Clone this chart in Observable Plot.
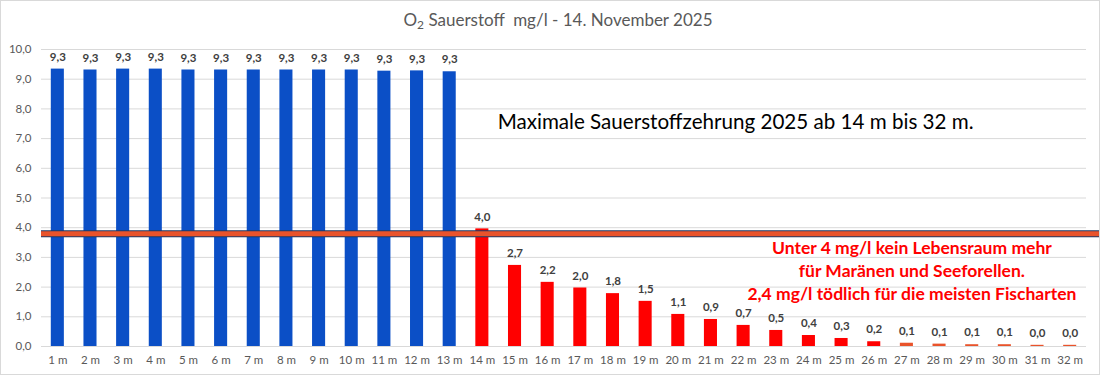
<!DOCTYPE html>
<html>
<head>
<meta charset="utf-8">
<script src="https://cdn.jsdelivr.net/npm/d3@7"></script>
<script src="https://cdn.jsdelivr.net/npm/@observablehq/plot@0.6"></script>
<style>
  html, body { margin: 0; padding: 0; background: #fff; }
  #chart { position: relative; width: 1100px; height: 375px; outline: 1px solid #d9d9d9; outline-offset: -1px; overflow: hidden; font-family: Lato, "Open Sans", sans-serif; }
  #title { height: 36px; line-height: 40px; text-align: center; font-size: 17px; color: #595959; padding-left: 16px; box-sizing: border-box; }
  #title sub { font-size: 12px; vertical-align: -3px; line-height: 0; }
  svg { display: block; }
</style>
</head>
<body>
<div id="chart">
  <div id="title">O<sub>2</sub> Sauerstoff&nbsp; mg/l - 14. November 2025</div>
</div>
<script>
const depths = ["1 m","2 m","3 m","4 m","5 m","6 m","7 m","8 m","9 m","10 m","11 m","12 m","13 m","14 m","15 m","16 m","17 m","18 m","19 m","20 m","21 m","22 m","23 m","24 m","25 m","26 m","27 m","28 m","29 m","30 m","31 m","32 m"];
const oxygen = [9.34,9.31,9.34,9.34,9.31,9.31,9.31,9.31,9.31,9.31,9.27,9.28,9.25,3.96,2.73,2.16,1.97,1.78,1.52,1.08,0.91,0.71,0.54,0.37,0.27,0.16,0.11,0.08,0.06,0.06,0.04,0.04];
const groups = ["blau","blau","blau","blau","blau","blau","blau","blau","blau","blau","blau","blau","blau","rot","rot","rot","rot","rot","rot","rot","rot","rot","rot","rot","rot","rot","orange","orange","orange","orange","orange","orange"];
const yTicks = [0,1,2,3,4,5,6,7,8,9,10];
const threshold = [3.8];
const headline = [{x: "22 m", y: 7.54, text: "Maximale Sauerstoffzehrung 2025 ab 14 m bis 32 m."}];
const notes = [
  {x: "27 m", y: 3.3, text: "Unter 4 mg/l kein Lebensraum mehr"},
  {x: "27 m", y: 2.52, text: "für Maränen und Seeforellen."},
  {x: "27 m", y: 1.75, text: "2,4 mg/l tödlich für die meisten Fischarten"}
];

const data = depths.map((d, i) => ({depth: d, value: oxygen[i], group: groups[i]}));
const fmt = v => v.toFixed(1).replace(".", ",");

const plot = Plot.plot({
  width: 1100,
  height: 339,
  marginTop: 13,
  marginBottom: 29,
  marginLeft: 41,
  marginRight: 14,
  style: {fontFamily: "Lato, 'Open Sans', sans-serif", background: "transparent"},
  x: {domain: depths, paddingInner: 0.6, paddingOuter: 0.3, round: false, label: null},
  y: {domain: [0, 10], label: null},
  color: {domain: ["blau","rot","orange"], range: ["#0b4fc6","#ff0000","#e9532b"]},
  marks: [
    Plot.gridY(yTicks, {stroke: "#d9d9d9", strokeOpacity: 1, strokeWidth: 1}),
    Plot.axisY(yTicks, {tickSize: 0, tickPadding: 10, tickFormat: fmt, fill: "#595959", fontSize: 11.5, label: null}),
    Plot.axisX({tickSize: 0, tickPadding: 9, fill: "#595959", fontSize: 11.5, label: null}),
    Plot.barY(data, {x: "depth", y: "value", fill: "group"}),
    Plot.text(data, {x: "depth", y: "value", text: d => fmt(d.value), dy: -12, fontSize: 11.5, fontWeight: "bold", fill: "#404040"}),
    Plot.ruleY(threshold, {stroke: "#1f3864", strokeWidth: 7, insetRight: -14}),
    Plot.ruleY(threshold, {stroke: "#e9532b", strokeWidth: 5, insetRight: -14}),
    Plot.text(headline, {x: "x", y: "y", text: "text", dx: -8, fontSize: 20.6, fill: "#000"}),
    Plot.text(notes, {x: "x", y: "y", text: "text", dx: 5, fontSize: 17.5, fontWeight: "bold", fill: "#ff0000"})
  ]
});
document.getElementById("chart").appendChild(plot);
</script>
</body>
</html>
